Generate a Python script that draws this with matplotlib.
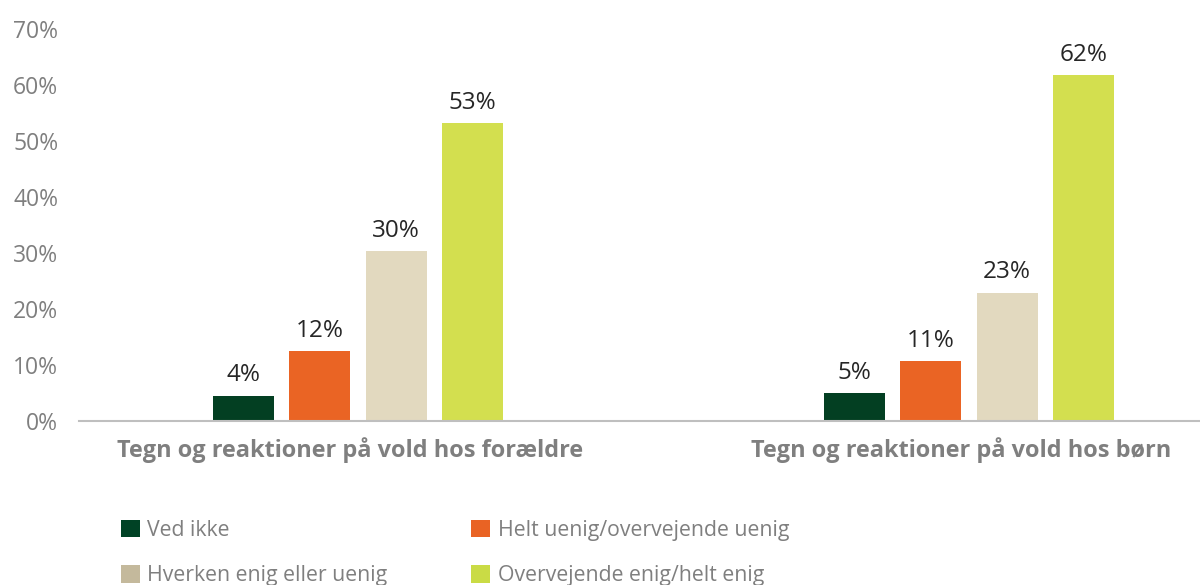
import matplotlib
matplotlib.use("Agg")
import matplotlib.pyplot as plt
from matplotlib.patches import Patch
import numpy as np

plt.rcParams['font.family'] = ['Open Sans', 'DejaVu Sans']

categories = ["Tegn og reaktioner på vold hos forældre", "Tegn og reaktioner på vold hos børn"]
series_names = ["Ved ikke", "Helt uenig/overvejende uenig", "Hverken enig eller uenig", "Overvejende enig/helt enig"]
values_foraeldre = [4.4, 12.4, 30.3, 53.2]
values_boern = [4.9, 10.6, 22.9, 61.8]
labels_foraeldre = ["4%", "12%", "30%", "53%"]
labels_boern = ["5%", "11%", "23%", "62%"]
y_ticks = [0, 10, 20, 30, 40, 50, 60, 70]
y_tick_labels = ["0%", "10%", "20%", "30%", "40%", "50%", "60%", "70%"]

bar_colors = ["#033f22", "#ea6424", "#e2d9bf", "#d3df4f"]
legend_colors = ["#004225", "#e96324", "#c4b99c", "#cadb45"]

W, H = 1200, 585
fig = plt.figure(figsize=(W / 100, H / 100), dpi=100)
ax = fig.add_axes([79 / W, 1 - 420.5 / H, 1 - 79 / W, (420.5 - 29.4) / H])

x = np.arange(len(categories))
step = 0.125
width = 0.1
data = np.array([values_foraeldre, values_boern]).T
labels = np.array([labels_foraeldre, labels_boern]).T
for i, name in enumerate(series_names):
    xs = x + (i - 1.5) * step
    bars = ax.bar(xs, data[i], width=width, color=bar_colors[i], label=name, zorder=2)
    for b, lab in zip(bars, labels[i]):
        ax.annotate(lab, (b.get_x() + b.get_width() / 2, b.get_height()),
                    xytext=(0, 10.5), textcoords="offset points",
                    ha="center", va="baseline", fontsize=17.5, color="#262626")

ax.set_xlim((79 - 358) / 611, (1200 - 358) / 611)
ax.set_ylim(0, 70)
ax.set_yticks(y_ticks)
ax.set_yticklabels(y_tick_labels)
ax.set_xticks(x - 8 / 611)
ax.set_xticklabels(categories)
ax.tick_params(axis="y", length=0, pad=15, labelsize=16.5, labelcolor="#7f7f7f")
ax.tick_params(axis="x", length=0, pad=12, labelsize=16.9, labelcolor="#7f7f7f")
for t in ax.get_xticklabels():
    t.set_fontweight("bold")
for s in ["top", "right", "left"]:
    ax.spines[s].set_visible(False)
ax.spines["bottom"].set_color("#bfbfbf")
ax.spines["bottom"].set_linewidth(1.5)

# legend filled row by row (matplotlib fills column-wise)
order = [0, 2, 1, 3]
handles = [Patch(facecolor=legend_colors[k], edgecolor="none") for k in order]
names = [series_names[k] for k in order]
fig.legend(handles, names, loc="upper left", bbox_to_anchor=(112 / W, 1 - 511 / H),
           ncol=2, frameon=False, fontsize=15.3, labelcolor="#7f7f7f",
           handlelength=0.9, handleheight=0.9, handletextpad=0.35,
           columnspacing=3.94, labelspacing=1.15, borderaxespad=0)

fig.savefig("out.png", dpi=100)
